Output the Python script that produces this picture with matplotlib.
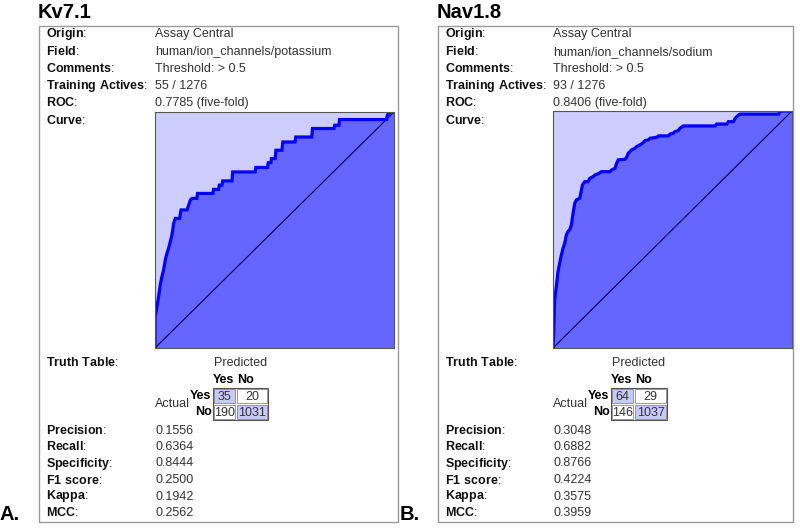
import matplotlib
matplotlib.use('Agg')
import matplotlib.pyplot as plt
from matplotlib.patches import Rectangle

plt.rcParams['font.family'] = ['Liberation Sans', 'DejaVu Sans']
plt.rcParams['mathtext.fontset'] = 'custom'
plt.rcParams['mathtext.rm'] = 'Liberation Sans'
plt.rcParams['mathtext.bf'] = 'Liberation Sans:bold'

# ---- data ----
titles = ['Kv7.1', 'Nav1.8']
panel_tags = ['A.', 'B.']
fields = ['human/ion_channels/potassium', 'human/ion_channels/sodium']
actives = ['55 / 1276', '93 / 1276']
roc_values = ['0.7785 (five-fold)', '0.8406 (five-fold)']
truth_tables = [[35, 20, 190, 1031], [64, 29, 146, 1037]]  # TP, FN, FP, TN
precision = ['0.1556', '0.3048']
recall = ['0.6364', '0.6882']
specificity = ['0.8444', '0.8766']
f1_score = ['0.2500', '0.4224']
kappa = ['0.1942', '0.3575']
mcc = ['0.2562', '0.3959']

fpr_kv = [0, 0, 0.006, 0.015, 0.022, 0.029, 0.036, 0.043, 0.050, 0.057, 0.064, 0.071,
          0.078, 0.085, 0.103, 0.109, 0.134, 0.141, 0.148, 0.155, 0.175, 0.178, 0.242,
          0.245, 0.266, 0.269, 0.280, 0.283, 0.322, 0.325, 0.419, 0.422, 0.471, 0.474,
          0.485, 0.487, 0.503, 0.506, 0.531, 0.535, 0.586, 0.589, 0.656, 0.659, 0.749,
          0.752, 0.770, 0.772, 0.969, 0.972, 0.981, 1.0]
tpr_kv = [0, 0.134, 0.162, 0.218, 0.268, 0.303, 0.331, 0.373, 0.401, 0.423, 0.451, 0.479,
          0.528, 0.549, 0.549, 0.585, 0.585, 0.606, 0.627, 0.634, 0.634, 0.655, 0.655,
          0.672, 0.672, 0.690, 0.690, 0.708, 0.708, 0.746, 0.746, 0.765, 0.765, 0.785,
          0.785, 0.803, 0.803, 0.838, 0.838, 0.873, 0.873, 0.894, 0.894, 0.930, 0.930,
          0.944, 0.944, 0.968, 0.968, 0.986, 1.0, 1.0]

fpr_nav = [0, 0.003, 0.007, 0.014, 0.021, 0.028, 0.035, 0.042, 0.049, 0.056, 0.063, 0.070,
           0.077, 0.084, 0.091, 0.098, 0.112, 0.119, 0.123, 0.133, 0.147, 0.154, 0.168,
           0.175, 0.189, 0.203, 0.238, 0.245, 0.259, 0.266, 0.273, 0.301, 0.308, 0.315,
           0.329, 0.343, 0.350, 0.364, 0.378, 0.385, 0.399, 0.406, 0.434, 0.441, 0.483,
           0.490, 0.503, 0.510, 0.524, 0.531, 0.545, 0.678, 0.685, 0.727, 0.734, 0.755,
           0.762, 0.776, 0.783, 0.944, 0.951, 1.0]
tpr_nav = [0, 0.063, 0.204, 0.260, 0.323, 0.358, 0.393, 0.421, 0.442, 0.478, 0.492, 0.499,
           0.520, 0.569, 0.611, 0.625, 0.632, 0.667, 0.688, 0.702, 0.702, 0.716, 0.723,
           0.730, 0.735, 0.744, 0.744, 0.751, 0.758, 0.779, 0.794, 0.796, 0.805, 0.822,
           0.836, 0.843, 0.850, 0.857, 0.867, 0.875, 0.878, 0.885, 0.889, 0.895, 0.895,
           0.903, 0.906, 0.913, 0.917, 0.927, 0.937, 0.937, 0.945, 0.945, 0.955, 0.955,
           0.969, 0.983, 0.987, 0.987, 1.0, 1.0]
curves = [(fpr_kv, tpr_kv), (fpr_nav, tpr_nav)]

# ---- layout (pixels) ----
W, H = 800, 528
fig = plt.figure(figsize=(8, 5.28), dpi=100)
ov = fig.add_axes([0, 0, 1, 1])
ov.set_xlim(0, W)
ov.set_ylim(H, 0)
ov.axis('off')

FS = 9
lab_color = '#111111'
val_color = '#333333'
hi = '#c8c8fa'


def label(x, y, s):
    # bold name with a regular colon, as one text
    name = s.replace(' ', r'\ ')
    ov.text(x, y, r'$\mathbf{' + name + '}$:', fontsize=FS, va='center', color=lab_color)


panels = [
    dict(box=(39, 26, 398, 522), title_x=38, lx=46, vx=155, roc=(155, 112, 394, 348),
         tab=(213, 236, 268), tag_x=10),
    dict(box=(438, 26, 793, 522), title_x=437, lx=445, vx=553, roc=(553, 111, 792, 348),
         tab=(611, 634, 667), tag_x=410),
]

for i, p in enumerate(panels):
    x0, y0, x1, y1 = p['box']
    ov.add_patch(Rectangle((x0, y0), x1 - x0, y1 - y0, fill=False, ec='#9a9a9a', lw=1))
    ov.text(p['title_x'], 12, titles[i], fontsize=14.5, fontweight='heavy', va='center')
    ov.text(p['tag_x'], 514, panel_tags[i], fontsize=14.5, fontweight='heavy',
            va='center', ha='center')

    lx, vx = p['lx'], p['vx']
    top_rows = [('Origin', 'Assay Central'), ('Field', fields[i]),
                ('Comments', 'Threshold: > 0.5'), ('Training Actives', actives[i]),
                ('ROC', roc_values[i]), ('Curve', None)]
    for k, (name, val) in enumerate(top_rows):
        y = 34.5 + k * 17.1
        label(lx, y, name)
        if val:
            ov.text(vx, y, val, fontsize=FS, va='center', color=val_color)

    # ROC curve
    rx0, ry0, rx1, ry1 = p['roc']
    ax = fig.add_axes([rx0 / W, 1 - ry1 / H, (rx1 - rx0) / W, (ry1 - ry0) / H])
    ax.set_facecolor('#cdcdff')
    fpr, tpr = curves[i]
    ax.fill_between(fpr, tpr, 0, color='#6565ff', lw=0)
    ax.plot([0, 1], [0, 1], color='#000055', lw=0.8)
    ax.plot(fpr, tpr, color='#0000ff', lw=2.3, solid_joinstyle='miter')
    ax.set_xlim(0, 1)
    ax.set_ylim(0, 1)
    ax.set_xticks([])
    ax.set_yticks([])
    for s in ax.spines.values():
        s.set_color('#555555')
        s.set_linewidth(0.8)

    # truth table
    label(lx, 363, 'Truth Table')
    c0, c1, c2 = p['tab']
    ov.text((c0 + c2) / 2, 363, 'Predicted', fontsize=FS, va='center', ha='center',
            color=val_color)
    ov.text(c0, 380, 'Yes', fontsize=FS, fontweight='bold', va='center', ha='left')
    ov.text(c1 + 1, 380, 'No', fontsize=FS, fontweight='bold', va='center', ha='left')
    ov.text(vx, 404, 'Actual', fontsize=FS, va='center', ha='left', color=val_color)
    ov.text(c0 - 1.5, 396, 'Yes', fontsize=FS, fontweight='bold', va='center', ha='right')
    ov.text(c0 - 1.5, 412, 'No', fontsize=FS, fontweight='bold', va='center', ha='right')
    tp, fn, fp, tn = truth_tables[i]
    cells = [(c0, c1, 388, 404, tp, True), (c1, c2, 388, 404, fn, False),
             (c0, c1, 404, 420, fp, False), (c1, c2, 404, 420, tn, True)]
    for a, b, t, bt, v, h in cells:
        ov.add_patch(Rectangle((a + 1, t + 1), b - a - 2, bt - t - 2,
                               fc=hi if h else 'white', ec='#888888', lw=0.6))
        ov.text((a + b) / 2, (t + bt) / 2 + 0.5, str(v), fontsize=FS, va='center',
                ha='center', color=val_color)
    ov.add_patch(Rectangle((c0, 388), c2 - c0, 32, fill=False, ec='#555555', lw=0.8))

    bottom_rows = [('Precision', precision[i]), ('Recall', recall[i]),
                   ('Specificity', specificity[i]), ('F1 score', f1_score[i]),
                   ('Kappa', kappa[i]), ('MCC', mcc[i])]
    for k, (name, val) in enumerate(bottom_rows):
        y = 430.5 + k * 16.5
        label(lx, y, name)
        ov.text(vx, y, val, fontsize=FS, va='center', color=val_color)

fig.savefig('out.png', dpi=100)
